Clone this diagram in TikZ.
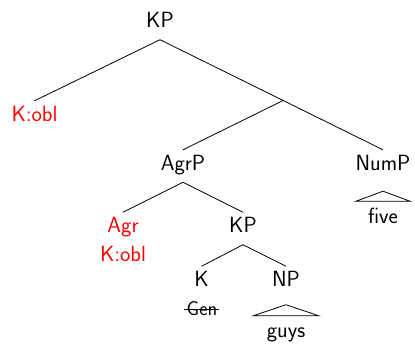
\documentclass[tikz,border=0pt]{standalone}
\usepackage{fontspec}
\usetikzlibrary{calc}
\begin{document}
\begin{tikzpicture}[x=1pt,y=-1pt,
  lab/.style={font=\sffamily\fontsize{22}{29}\selectfont\addfontfeatures{LetterSpace=10}, inner xsep=0pt, inner ysep=5pt,
              text height=15pt, text depth=7pt, anchor=base},
  redlab/.style={lab, text=red},
  small/.style={font=\sffamily\fontsize{20}{24}\selectfont\addfontfeatures{LetterSpace=8}, inner sep=0pt, anchor=base},
  edge/.style={draw=black, line width=0.8pt},
  tri/.style={draw=black, line width=0.8pt}]
\useasboundingbox (0,0) rectangle (415,343);
% nodes
\node[lab]    (KP)   at (160,27.5) {KP};
\node[redlab] (Kobl) at (34.5,121)   {K:obl};
\node[lab]    (AgrP) at (183,170)  {AgrP};
\node[lab]    (NumP) at (383,170)  {NumP};
\node[redlab] (Agr)  at (123,232.5) {Agr};
\node[redlab] (AgrK) at (123,261)  {K:obl};
\node[lab]    (KP2)  at (243,232.5) {KP};
\node[lab]    (K)    at (201.5,286.5) {K};
\node[lab]    (NP)   at (286,286.5)  {NP};
\node[small]  (Gen)  at (202,315) {Gen};
\node[lab]    (five) at (383,223)  {five};
\node[lab]    (guys) at (286,337)  {guys};
\coordinate (br) at ($(KP.south)!0.552!(NumP.north)$);
% edges
\draw[edge] (KP.south) -- (Kobl.north);
\draw[edge] (KP.south) -- (NumP.north);
\draw[edge] (br) -- (AgrP.north);
\draw[edge] (AgrP.south) -- (Agr.north);
\draw[edge] (AgrP.south) -- (KP2.north);
\draw[edge] (KP2.south) -- (K.north);
\draw[edge] (KP2.south) -- (NP.north);
% strike-through
\draw[edge] ([xshift=-3pt,yshift=5.5pt]Gen.base west) -- ([xshift=2pt,yshift=5.5pt]Gen.base east);
% triangles
\draw[tri] ([yshift=-9pt]NumP.south) -- ([xshift=-27pt,yshift=-19pt]NumP.south)
           -- ([xshift=27pt,yshift=-19pt]NumP.south) -- cycle;
\draw[tri] ([yshift=-6pt]NP.south) -- ([xshift=-32.5pt,yshift=-17pt]NP.south)
           -- ([xshift=32.5pt,yshift=-17pt]NP.south) -- cycle;
\end{tikzpicture}
\end{document}
